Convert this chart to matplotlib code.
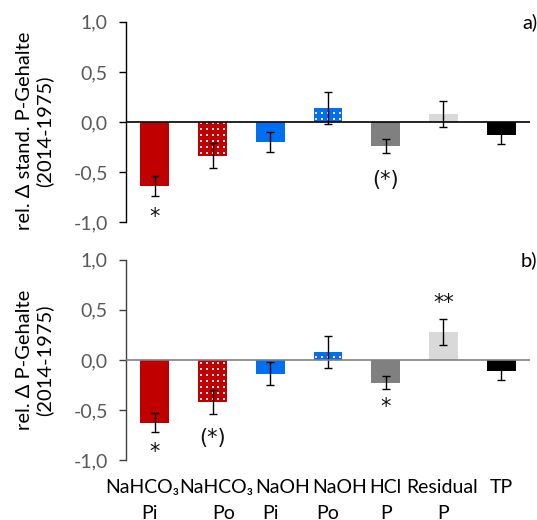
import matplotlib
matplotlib.use("Agg")
import numpy as np
import matplotlib.pyplot as plt
from matplotlib.ticker import FuncFormatter

plt.rcParams['font.family'] = ['Lato', 'DejaVu Sans']

cat_line1 = ["NaHCO\u2083", "NaHCO\u2083", "NaOH", "NaOH", "HCl", "Residual", "TP"]
cat_line2 = ["Pi", "Po", "Pi", "Po", "P", "P", ""]
colors = ["#C00000", "#C00000", "#0070F0", "#0070F0", "#808080", "#D9D9D9", "#000000"]
dotted = [False, True, False, True, False, False, False]

vals_a = [-0.64, -0.34, -0.20, 0.14, -0.24, 0.08, -0.13]
err_a = [0.095, 0.125, 0.10, 0.16, 0.07, 0.13, 0.095]
sig_a = ["*", "", "", "", "(*)", "", ""]
sig_a_y = [-0.95, None, None, None, -0.58, None, None]

vals_b = [-0.63, -0.42, -0.14, 0.08, -0.23, 0.28, -0.11]
err_b = [0.095, 0.12, 0.115, 0.16, 0.065, 0.13, 0.095]
sig_b = ["*", "(*)", "", "", "*", "**", ""]
sig_b_y = [-0.92, -0.78, None, None, -0.47, 0.57, None]

fig = plt.figure(figsize=(5.37, 5.2), dpi=100)
ax_a = fig.add_axes([0.2346, 0.573, 0.7524, 0.385])
ax_b = fig.add_axes([0.2346, 0.1154, 0.7524, 0.385])

def dots(ax, bar, i, v):
    # white dot texture clipped to the bar
    xs = np.linspace(i - 0.2, i + 0.2, 5)
    lo, hi = min(0, v), max(0, v)
    ys = np.arange(lo + 0.03, hi, 0.06)
    gx, gy = np.meshgrid(xs, ys)
    sc = ax.scatter(gx.ravel(), gy.ravel(), s=1.5, marker='s', c='#FFE0E0',
                    linewidths=0, zorder=2.5)
    sc.set_clip_path(bar)

def draw(ax, vals, errs, sig, sig_y, ylabel, tag, zcolor, scolor, ly):
    x = list(range(len(vals)))
    for i, v in enumerate(vals):
        bar = ax.bar(i, v, width=0.5, color=colors[i], linewidth=0, zorder=2)[0]
        if dotted[i]:
            dots(ax, bar, i, v)
    ax.errorbar(x, vals, yerr=errs, fmt='none', ecolor='black',
                elinewidth=1, capsize=3, capthick=1, zorder=3)
    ax.axhline(0, color=zcolor, lw=1.2, zorder=4)
    for i, s in enumerate(sig):
        if s:
            ax.text(i, sig_y[i], s, ha='center', va='center', fontsize=15,
                    family=['DejaVu Sans'], color='#111111')
    ax.set_xlim(-0.5, 6.5)
    ax.set_ylim(-1.0, 1.0)
    ax.set_yticks([-1.0, -0.5, 0.0, 0.5, 1.0])
    ax.yaxis.set_major_formatter(FuncFormatter(lambda v, p: f"{v:.1f}".replace('.', ',')))
    ax.tick_params(axis='y', direction='out', length=5, width=1, colors=scolor,
                   labelcolor='#595959', labelsize=14, pad=8)
    ax.set_xticks([])
    for sp in ['top', 'right', 'bottom']:
        ax.spines[sp].set_visible(False)
    ax.spines['left'].set_color(scolor)
    ax.spines['left'].set_linewidth(1)
    ax.set_ylabel(ylabel, fontsize=14.5, linespacing=1.15)
    ax.yaxis.set_label_coords(-0.18, ly)
    ax.text(1.018, 1.0, tag, transform=ax.transAxes, ha='right', va='center', fontsize=14.5)

draw(ax_a, vals_a, err_a, sig_a, sig_a_y, "rel. \u0394 stand. P-Gehalte\n(2014-1975)", "a)", "black", "black", 0.455)
draw(ax_b, vals_b, err_b, sig_b, sig_b_y, "rel. \u0394 P-Gehalte\n(2014-1975)", "b)", "#808080", "#404040", 0.5)

# category labels, two lines each, nudged like the original layout
shift1 = [-0.22, 0.07, 0.22, 0.21, 0, -0.03, 0]
shift2 = [-0.09, 0.2, 0, 0, 0, 0, 0]
xt = ax_b.get_xaxis_transform()
for i, (l1, l2) in enumerate(zip(cat_line1, cat_line2)):
    ax_b.text(i + shift1[i], -0.135, l1, transform=xt, ha='center', va='center', fontsize=14)
    if l2:
        ax_b.text(i + shift2[i], -0.265, l2, transform=xt, ha='center', va='center', fontsize=14)

fig.savefig("out.png", dpi=100)
